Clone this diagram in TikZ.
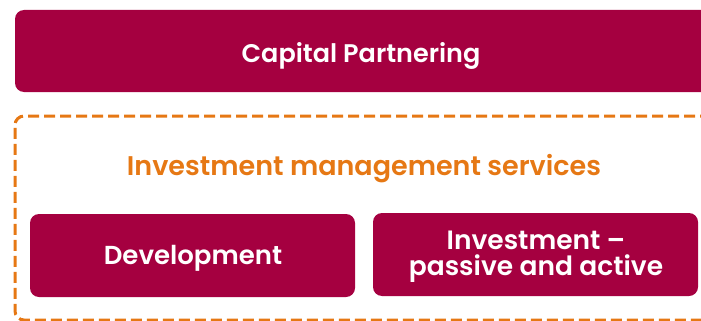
\documentclass[tikz,border=0pt]{standalone}
\usepackage{fontspec}
\setmainfont{Poppins}[BoldFont={Poppins SemiBold}]
\usetikzlibrary{positioning}
\definecolor{berry}{RGB}{165,0,64}
\definecolor{amber}{RGB}{230,120,20}

\begin{document}
\begin{tikzpicture}[x=1pt,y=-1pt,
  block/.style={fill=berry,rounded corners=9pt,inner sep=0pt},
  group/.style={draw=amber,line width=3pt,dash pattern=on 11pt off 5pt,rounded corners=9pt,inner sep=0pt},
  label/.style={inner sep=0pt,anchor=base,align=center,font=\bfseries\fontsize{#1}{26}\selectfont}]

\useasboundingbox (0,0) rectangle (701,321);

% top bar runs off the right edge
\node[block,minimum width=705pt,minimum height=82pt] (capital) at (367.5,51) {};
\node[label=25.5,text=white] (capitallabel) at (361,63) {Capital Partnering};

% dashed group
\node[group,minimum width=705pt,minimum height=204pt] (ims) at (367.5,218) {};
\node[label=27,text=amber] (imslabel) at (364,175) {Investment management services};

\node[block,minimum width=325pt,minimum height=83pt] (dev) at (192.5,255.5) {};
\node[label=26,text=white] (devlabel) at (193,264) {Development};

\node[block,minimum width=325pt,minimum height=83pt] (inv) at (535.5,254.5) {};
\node[label=26.5,text=white] (invlabel) at (536,275) {Investment --\\passive and active};

\end{tikzpicture}
\end{document}
